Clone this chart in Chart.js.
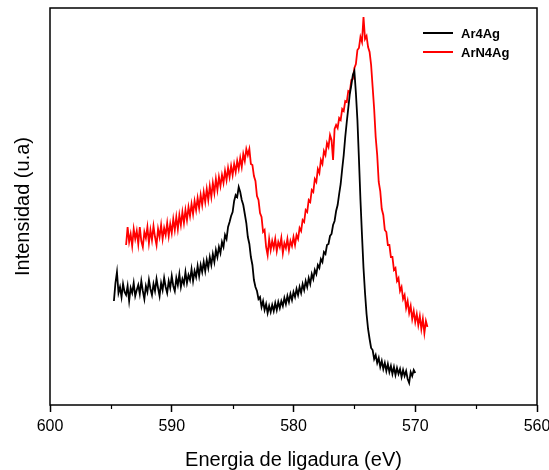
<!DOCTYPE html>
<html>
<head>
<meta charset="utf-8">
<script src="https://cdn.jsdelivr.net/npm/chart.js@4/dist/chart.umd.min.js"></script>
<style>
  html, body { margin: 0; padding: 0; background: #fff; }
  #chart { display: block; }
</style>
</head>
<body>
<canvas id="chart" width="549" height="470"></canvas>
<script>
// energia de ligadura (eV), paso 0.125
const energia = [
    594.75, 594.625, 594.5, 594.375, 594.25, 594.125, 594,
    593.875, 593.75, 593.625, 593.5, 593.375, 593.25, 593.125, 593,
    592.875, 592.75, 592.625, 592.5, 592.375, 592.25, 592.125, 592,
    591.875, 591.75, 591.625, 591.5, 591.375, 591.25, 591.125, 591,
    590.875, 590.75, 590.625, 590.5, 590.375, 590.25, 590.125, 590,
    589.875, 589.75, 589.625, 589.5, 589.375, 589.25, 589.125, 589,
    588.875, 588.75, 588.625, 588.5, 588.375, 588.25, 588.125, 588,
    587.875, 587.75, 587.625, 587.5, 587.375, 587.25, 587.125, 587,
    586.875, 586.75, 586.625, 586.5, 586.375, 586.25, 586.125, 586,
    585.875, 585.75, 585.625, 585.5, 585.375, 585.25, 585.125, 585,
    584.875, 584.75, 584.625, 584.5, 584.375, 584.25, 584.125, 584,
    583.875, 583.75, 583.625, 583.5, 583.375, 583.25, 583.125, 583,
    582.875, 582.75, 582.625, 582.5, 582.375, 582.25, 582.125, 582,
    581.875, 581.75, 581.625, 581.5, 581.375, 581.25, 581.125, 581,
    580.875, 580.75, 580.625, 580.5, 580.375, 580.25, 580.125, 580,
    579.875, 579.75, 579.625, 579.5, 579.375, 579.25, 579.125, 579,
    578.875, 578.75, 578.625, 578.5, 578.375, 578.25, 578.125, 578,
    577.875, 577.75, 577.625, 577.5, 577.375, 577.25, 577.125, 577,
    576.875, 576.75, 576.625, 576.5, 576.375, 576.25, 576.125, 576,
    575.875, 575.75, 575.625, 575.5, 575.375, 575.25, 575.125, 575,
    574.875, 574.75, 574.625, 574.5, 574.375, 574.25, 574.125, 574,
    573.875, 573.75, 573.625, 573.5, 573.375, 573.25, 573.125, 573,
    572.875, 572.75, 572.625, 572.5, 572.375, 572.25, 572.125, 572,
    571.875, 571.75, 571.625, 571.5, 571.375, 571.25, 571.125, 571,
    570.875, 570.75, 570.625, 570.5, 570.375, 570.25, 570.125, 570,
    569.875, 569.75, 569.625, 569.5, 569.375, 569.25, 569.125, 569
];

// Ar4Ag: 594.75 -> 570.0 eV (u.a.)
const ar4ag = [
    104, 122, 133, 112, 118, 108, 121, 113, 110, 119,
    104, 117, 112, 122, 109, 115, 120, 111, 124, 114,
    106, 119, 113, 125, 116, 110, 121, 114, 126, 117,
    109, 122, 115, 127, 118, 112, 124, 117, 129, 119,
    114, 127, 120, 131, 118, 126, 121, 133, 122, 130,
    125, 136, 124, 134, 128, 139, 129, 140, 133, 143,
    134, 145, 137, 148, 140, 151, 143, 155, 148, 158,
    152, 163, 158, 170, 166, 178, 183, 189, 193, 204,
    210, 208, 218, 213, 205, 200, 191, 182, 168, 161,
    148, 140, 125, 118, 114, 106, 108, 98, 104, 95,
    101, 92, 99, 93, 100, 94, 102, 95, 103, 97,
    104, 99, 107, 101, 109, 103, 111, 105, 113, 108,
    116, 110, 118, 112, 121, 115, 124, 118, 127, 121,
    131, 126, 135, 131, 140, 137, 146, 143, 153, 151,
    160, 161, 169, 171, 180, 184, 194, 200, 211, 221,
    236, 250, 268, 283, 297, 311, 320, 330, 334, 312,
    285, 246, 205, 170, 137, 112, 91, 76, 66, 57,
    55, 46, 50, 42, 47, 38, 44, 36, 42, 34,
    41, 33, 39, 31, 38, 30, 37, 31, 36, 28,
    35, 29, 34, 26, 22, 33, 29, 35, 32
];

// ArN4Ag: 593.75 -> 569.0 eV (u.a.)
const arn4ag = [
    160, 178, 163, 171, 159, 176, 166, 174, 161, 178,
    164, 158, 173, 167, 178, 162, 175, 165, 179, 168,
    160, 176, 168, 180, 166, 177, 170, 182, 169, 181,
    172, 186, 175, 188, 176, 190, 180, 193, 182, 195,
    185, 198, 189, 201, 191, 204, 195, 207, 197, 210,
    200, 213, 203, 216, 205, 219, 208, 222, 212, 226,
    215, 228, 219, 230, 222, 234, 225, 237, 228, 239,
    230, 241, 233, 244, 236, 247, 238, 251, 244, 256,
    250, 256, 241, 240, 229, 224, 209, 205, 192, 188,
    173, 175, 158, 150, 166, 155, 164, 157, 166, 154,
    163, 158, 167, 152, 162, 157, 166, 155, 164, 159,
    168, 160, 170, 166, 177, 174, 185, 183, 195, 193,
    205, 203, 215, 213, 226, 223, 236, 232, 245, 241,
    254, 250, 262, 258, 270, 265, 245, 276, 280, 277,
    287, 285, 296, 294, 304, 303, 314, 313, 325, 326,
    337, 341, 355, 357, 368, 363, 388, 366, 369, 358,
    353, 340, 318, 296, 268, 250, 223, 214, 196, 190,
    175, 173, 160, 160, 148, 148, 135, 137, 124, 127,
    114, 118, 106, 110, 97, 104, 92, 99, 86, 94,
    83, 91, 80, 89, 76, 86, 72, 84, 78
];

const xTicks = [600, 590, 580, 570, 560];
const xMinor = [595, 585, 575, 565];
const labels = ['Ar4Ag', 'ArN4Ag'];

function pares(xs, ys) {
    return ys.map((y, i) => ({ x: xs[i], y: y }));
}

Chart.defaults.font.family = "'Liberation Sans', Arial, sans-serif";
Chart.defaults.color = '#000';

// marco, ticks menores y leyenda dentro del área
const extras = {
    id: 'extras',
    afterDraw(chart) {
        const ctx = chart.ctx;
        const a = chart.chartArea;
        const xs = chart.scales.x;
        ctx.save();
        ctx.strokeStyle = '#000';
        ctx.lineWidth = 1.5;
        ctx.strokeRect(a.left, a.top, a.right - a.left, a.bottom - a.top);

        ctx.lineWidth = 1.2;
        xMinor.forEach(v => {
            const px = Math.round(xs.getPixelForValue(v)) + 0.5;
            ctx.beginPath();
            ctx.moveTo(px, a.bottom);
            ctx.lineTo(px, a.bottom + 4);
            ctx.stroke();
        });

        ctx.font = "bold 13px 'Liberation Sans', Arial, sans-serif";
        ctx.textBaseline = 'middle';
        ctx.textAlign = 'left';
        chart.data.datasets.forEach((ds, i) => {
            const y = 33 + i * 19;
            ctx.strokeStyle = ds.borderColor;
            ctx.lineWidth = 2;
            ctx.beginPath();
            ctx.moveTo(423, y);
            ctx.lineTo(453, y);
            ctx.stroke();
            ctx.fillStyle = '#000';
            ctx.fillText(ds.label, 461, y + 1);
        });
        ctx.restore();
    }
};

new Chart(document.getElementById('chart'), {
    type: 'line',
    data: {
        datasets: [
            {
                label: labels[0],
                data: pares(energia, ar4ag),
                borderColor: '#000000',
                borderWidth: 1.8,
                pointRadius: 0,
                tension: 0
            },
            {
                label: labels[1],
                data: pares(energia.slice(8), arn4ag),
                borderColor: '#ff0000',
                borderWidth: 1.8,
                pointRadius: 0,
                tension: 0
            }
        ]
    },
    options: {
        responsive: false,
        animation: false,
        devicePixelRatio: 1,
        layout: { padding: { top: 8, right: 12, left: 0, bottom: 0 } },
        plugins: {
            legend: { display: false },
            tooltip: { enabled: false }
        },
        scales: {
            x: {
                type: 'linear',
                reverse: true,
                min: 560,
                max: 600,
                afterBuildTicks: s => { s.ticks = xTicks.map(v => ({ value: v })); },
                ticks: { font: { size: 16 }, padding: 5, maxRotation: 0, autoSkip: false },
                grid: {
                    drawOnChartArea: false,
                    drawTicks: true,
                    tickLength: 7,
                    tickColor: '#000',
                    tickWidth: 1.5
                },
                border: { display: false },
                title: {
                    display: true,
                    text: 'Energia de ligadura (eV)',
                    font: { size: 20, lineHeight: 1 },
                    padding: { top: 0, bottom: 0 }
                },
                afterFit: s => {
                    s.height = 65;
                    s.paddingLeft = 0;
                    s.paddingRight = 0;
                }
            },
            y: {
                min: 0,
                max: 397,
                ticks: { display: false },
                grid: { display: false },
                border: { display: false },
                title: {
                    display: true,
                    text: 'Intensidad (u.a)',
                    font: { size: 20, lineHeight: 1 },
                    padding: { top: 13, bottom: 0 }
                },
                afterFit: s => { s.width = 50; }
            }
        }
    },
    plugins: [extras]
});
</script>
</body>
</html>
